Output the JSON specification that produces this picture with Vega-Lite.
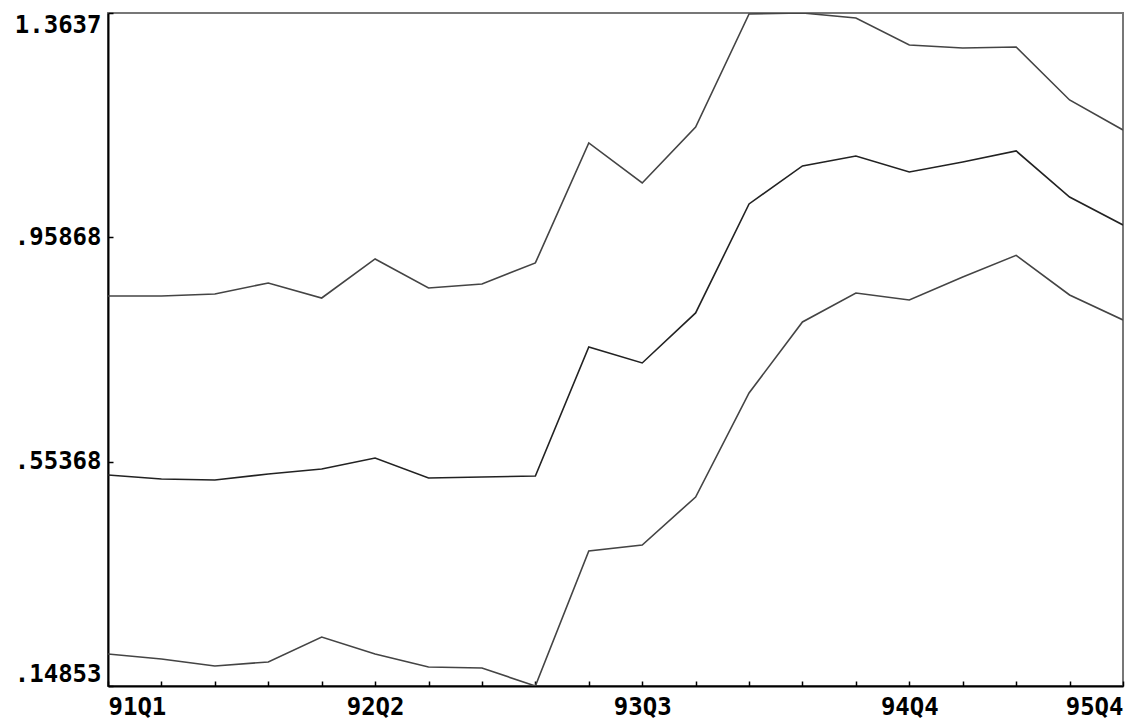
{
  "$schema": "https://vega.github.io/schema/vega-lite/v6.json",
  "width": 1015,
  "height": 673,
  "autosize": {"type": "none"},
  "padding": {"left": 108, "top": 13, "right": 12, "bottom": 40},
  "background": "white",
  "config": {
    "view": {"stroke": "#777", "strokeWidth": 2},
    "axis": {
      "labelFont": "DejaVu Sans Mono",
      "labelFontWeight": "bold",
      "labelFontSize": 24,
      "labelColor": "black",
      "domainColor": "black",
      "domainWidth": 2,
      "tickColor": "black",
      "tickWidth": 1.5,
      "grid": false,
      "title": null
    }
  },
  "data": {
    "values": [
      {"q": "91Q1", "i": 0, "top": 0.8527, "mid": 0.5295, "low": 0.2063},
      {"q": "91Q2", "i": 1, "top": 0.8527, "mid": 0.5223, "low": 0.1973},
      {"q": "91Q3", "i": 2, "top": 0.8563, "mid": 0.5205, "low": 0.1846},
      {"q": "91Q4", "i": 3, "top": 0.8762, "mid": 0.5313, "low": 0.1919},
      {"q": "92Q1", "i": 4, "top": 0.8491, "mid": 0.5404, "low": 0.2370},
      {"q": "92Q2", "i": 5, "top": 0.9196, "mid": 0.5602, "low": 0.2063},
      {"q": "92Q3", "i": 6, "top": 0.8672, "mid": 0.5241, "low": 0.1828},
      {"q": "92Q4", "i": 7, "top": 0.8744, "mid": 0.5259, "low": 0.1810},
      {"q": "93Q1", "i": 8, "top": 0.9124, "mid": 0.5277, "low": 0.14853},
      {"q": "93Q2", "i": 9, "top": 1.1290, "mid": 0.7607, "low": 0.3923},
      {"q": "93Q3", "i": 10, "top": 1.0568, "mid": 0.7318, "low": 0.4031},
      {"q": "93Q4", "i": 11, "top": 1.1579, "mid": 0.8221, "low": 0.4898},
      {"q": "94Q1", "i": 12, "top": 1.3620, "mid": 1.0189, "low": 0.6776},
      {"q": "94Q2", "i": 13, "top": 1.3637, "mid": 1.0875, "low": 0.8058},
      {"q": "94Q3", "i": 14, "top": 1.3547, "mid": 1.1055, "low": 0.8582},
      {"q": "94Q4", "i": 15, "top": 1.3060, "mid": 1.0767, "low": 0.8455},
      {"q": "95Q1", "i": 16, "top": 1.3006, "mid": 1.0947, "low": 0.8871},
      {"q": "95Q2", "i": 17, "top": 1.3024, "mid": 1.1146, "low": 0.9261},
      {"q": "95Q3", "i": 18, "top": 1.2067, "mid": 1.0315, "low": 0.8546},
      {"q": "95Q4", "i": 19, "top": 1.1525, "mid": 0.9810, "low": 0.8094}
    ]
  },
  "transform": [
    {"fold": ["top", "mid", "low"], "as": ["series", "value"]}
  ],
  "mark": {"type": "line", "strokeWidth": 1.6, "clip": true},
  "encoding": {
    "x": {
      "field": "q",
      "type": "ordinal",
      "sort": {"field": "i"},
      "scale": {"type": "point", "padding": 0},
      "axis": {
        "labelAngle": 0,
        "labelFlush": true,
        "labelPadding": 14,
        "tickSize": -5,
        "labelOverlap": false,
        "labelExpr": "indexof(['91Q1','92Q2','93Q3','94Q4','95Q4'], datum.value) >= 0 ? datum.value : ''"
      }
    },
    "y": {
      "field": "value",
      "type": "quantitative",
      "scale": {"domain": [0.14853, 1.3637], "nice": false, "zero": false},
      "axis": {
        "values": [0.14853, 0.55368, 0.95868, 1.3637],
        "labelFlush": true,
        "labelPadding": 12,
        "tickSize": -5,
        "labelExpr": "datum.value < 1 ? replace(format(datum.value, '.5f'), '0.', '.') : format(datum.value, '.4f')"
      }
    },
    "detail": {"field": "series", "type": "nominal"},
    "color": {
      "field": "series",
      "type": "nominal",
      "scale": {"domain": ["top", "mid", "low"], "range": ["#444444", "#222222", "#444444"]},
      "legend": null
    }
  }
}
